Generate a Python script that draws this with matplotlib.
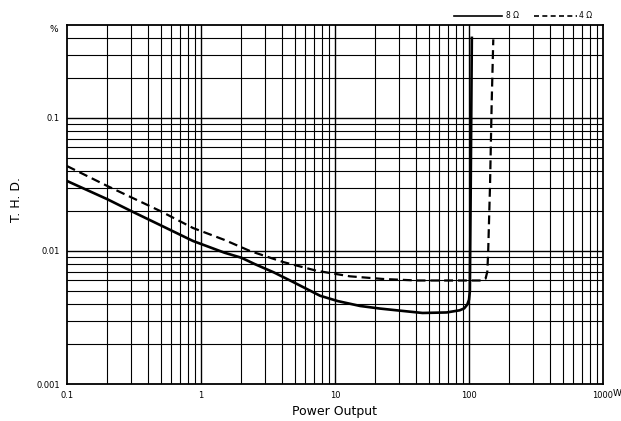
import matplotlib
matplotlib.use("Agg")
import matplotlib.pyplot as plt
from matplotlib.lines import Line2D
import numpy as np

# ---- data ----
power_8ohm = [0.1, 0.2, 0.3, 0.5, 0.87, 1.5, 2.0, 2.5, 3.5, 4.86, 7.73, 10.5, 15.4, 21.7, 30.5, 45.0, 68.0, 85.0, 92.0, 97.0, 100.0, 101.5, 103.0, 105.0]
thd_8ohm   = [0.0336, 0.0245, 0.0200, 0.0156, 0.0119, 0.0097, 0.0089, 0.0080, 0.0069, 0.00585, 0.00461, 0.00420, 0.00386, 0.00369, 0.00356, 0.00342, 0.00345, 0.00358, 0.00370, 0.00395, 0.0043, 0.0050, 0.030, 0.40]

power_4ohm = [0.1, 0.2, 0.5, 0.87, 1.5, 2.32, 4.1, 7.3, 12.9, 22.8, 40.9, 72.0, 100.0, 125.0, 133.0, 137.0, 139.0, 143.5, 147.7, 151.8]
thd_4ohm   = [0.0435, 0.0308, 0.0199, 0.0149, 0.0121, 0.0100, 0.00826, 0.0071, 0.00645, 0.00616, 0.0060, 0.0060, 0.0060, 0.0060, 0.0062, 0.0070, 0.0098, 0.031, 0.131, 0.39]

x_ticks = [0.1, 1, 10, 100, 1000]
x_tick_labels = ["0.1", "1", "10", "100", "1000"]
y_ticks = [0.001, 0.01, 0.1]
y_tick_labels = ["0.001", "0.01", "0.1"]
x_limits = [0.1, 1000]
y_limits = [0.001, 0.5]
legend_labels = ["8 Ω", "4 Ω"]

fig = plt.figure(figsize=(6.21, 4.21), dpi=100)
ax = fig.add_axes([67/621, 37/421, 536/621, 359/421])
ax.set_xscale("log")
ax.set_yscale("log")
ax.set_xlim(*x_limits)
ax.set_ylim(*y_limits)

# grid: full log paper
for dec in [0.1, 1, 10, 100]:
    for m in range(1, 10):
        v = dec * m
        if x_limits[0] < v < x_limits[1]:
            ax.axvline(v, color="black", lw=1.0 if m == 1 else 0.8, zorder=1)
for dec in [0.001, 0.01, 0.1]:
    for m in range(1, 10):
        v = dec * m
        if y_limits[0] < v < y_limits[1]:
            ax.axhline(v, color="black", lw=1.0 if m == 1 else 0.8, zorder=1)

ax.plot(power_8ohm, thd_8ohm, color="black", lw=1.9, zorder=3, solid_joinstyle="round")
ax.plot(power_4ohm, thd_4ohm, color="black", lw=1.6, zorder=3, dashes=(4, 2.2))

for s in ax.spines.values():
    s.set_linewidth(1.3)

ax.set_xticks(x_ticks)
ax.set_xticklabels(x_tick_labels)
ax.set_yticks(y_ticks)
ax.set_yticklabels(y_tick_labels)
ax.minorticks_off()
ax.tick_params(length=0, labelsize=6, pad=5)

fig.text(335/621, 1 - 412/421, "Power Output", fontsize=9, ha="center", va="center")
fig.text(17/621, 1 - 200/421, "T. H. D.", fontsize=9, ha="center", va="center", rotation=90)

fig.text(58/621, 1 - 30/421, "%", fontsize=6.5, ha="right", va="center")
fig.text(617/621, 1 - 393/421, "W", fontsize=6.5, ha="center", va="center")

# legend above the frame
fig.add_artist(Line2D([454/621, 502/621], [1 - 16/421, 1 - 16/421], color="black", lw=1.2))
fig.text(506/621, 1 - 16/421, legend_labels[0], fontsize=5.5, ha="left", va="center")
fig.add_artist(Line2D([534/621, 577/621], [1 - 16/421, 1 - 16/421], color="black", lw=1.2, dashes=(3, 2)))
fig.text(579/621, 1 - 16/421, legend_labels[1], fontsize=5.5, ha="left", va="center")

fig.savefig("out.png", dpi=100)
